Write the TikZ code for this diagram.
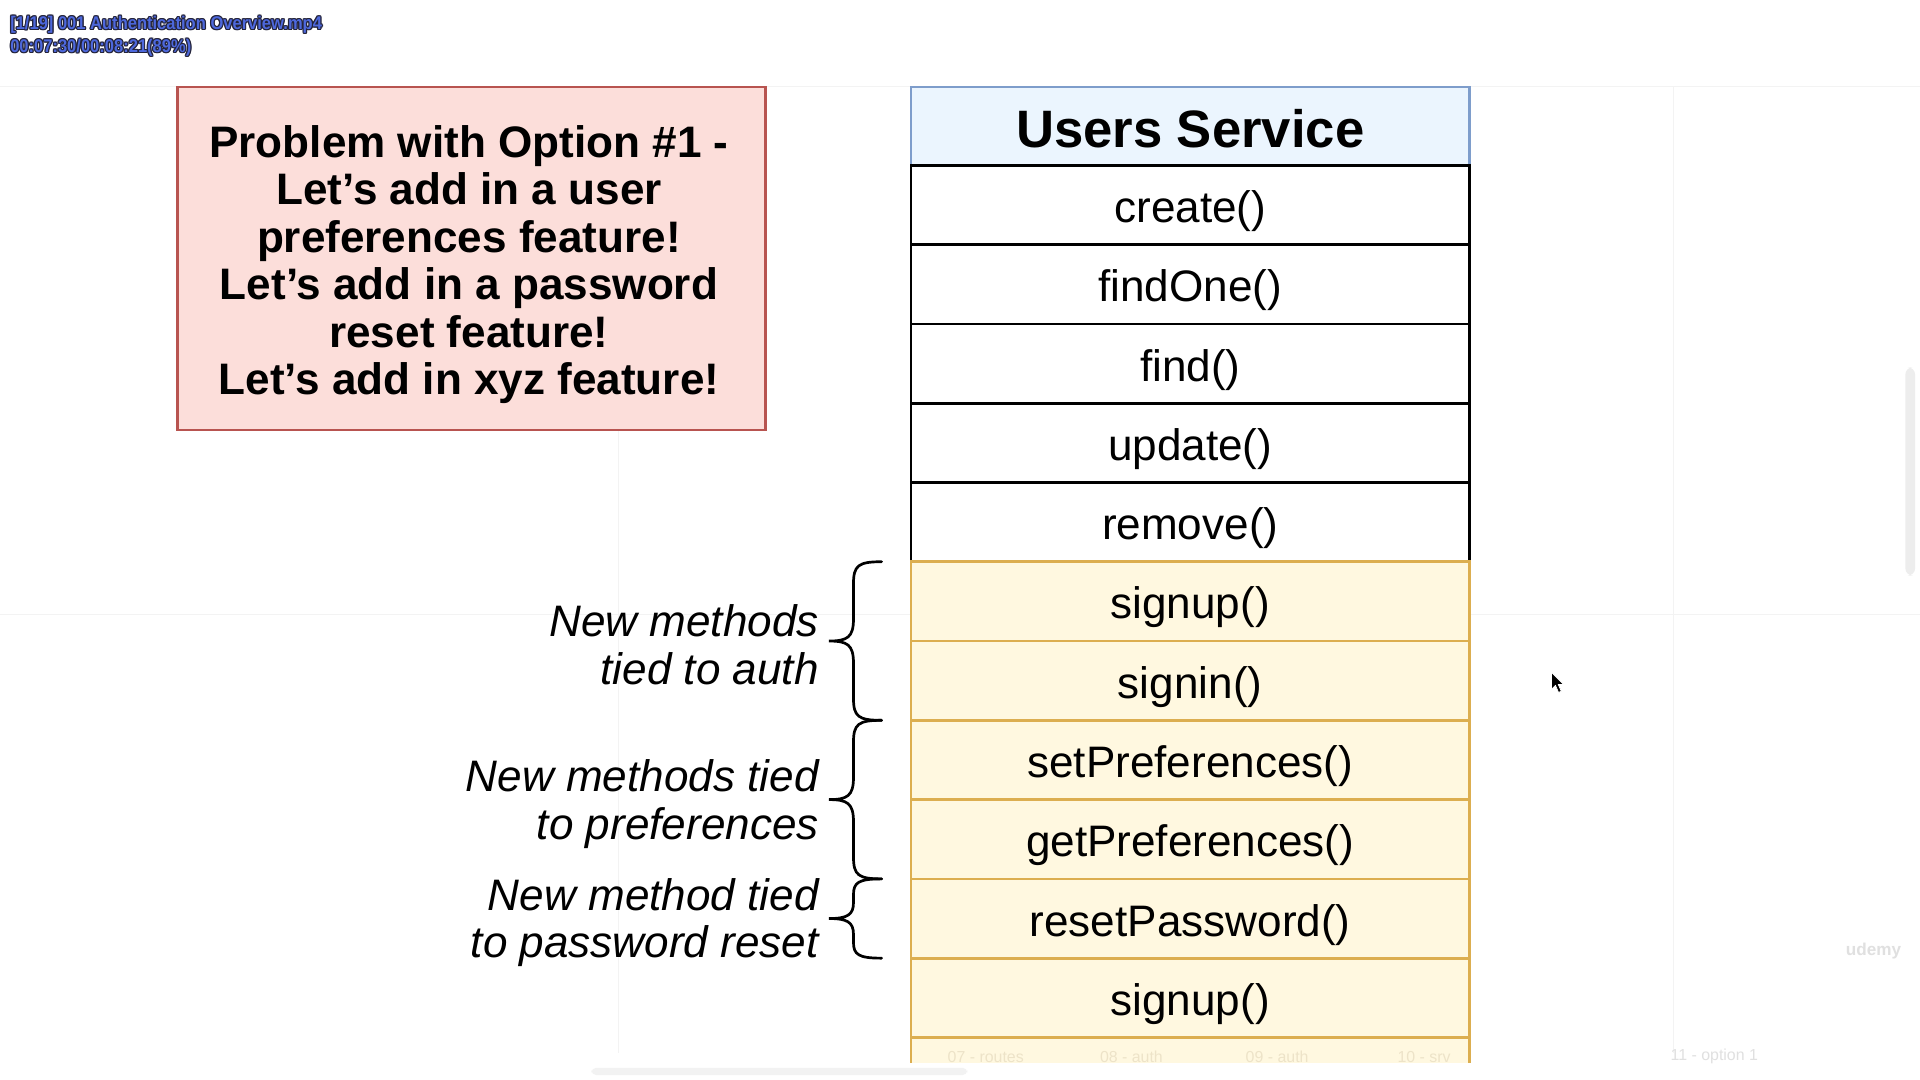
\documentclass[tikz,border=0pt]{standalone}
\usepackage{fontspec}
\usepackage{graphicx}
\setmainfont{Liberation Sans}[Ligatures=ResetAll]
\newcommand{\sq}{\symbol{39}}
\definecolor{pinkfill}{HTML}{FCDEDA}
\definecolor{pinkline}{HTML}{B85450}
\definecolor{bluefill}{HTML}{EBF5FE}
\definecolor{blueline}{HTML}{7E9DCB}
\definecolor{yelfill}{HTML}{FFF8E0}
\definecolor{yelline}{HTML}{DCAE50}
\definecolor{ovblue}{HTML}{4D68DC}
\definecolor{ovdark}{HTML}{23233A}
\definecolor{gridc}{HTML}{F3F3F3}
\definecolor{faintc}{HTML}{EDE3C8}
\begin{document}
\begin{tikzpicture}[x=0.5pt,y=-0.5pt,
  rowtext/.style={font=\fontsize{18}{20}\selectfont, anchor=center, inner sep=0pt},
  titletext/.style={font=\fontsize{21.5}{24}\selectfont\bfseries, anchor=center, inner sep=0pt},
  problemtext/.style={font=\fontsize{18}{19.4}\selectfont\bfseries, align=center, anchor=center, inner sep=0pt},
  notetext/.style={font=\fontsize{18}{19.5}\selectfont\itshape, align=right, anchor=east, inner sep=0pt},
  ovltext/.style={font=\fontsize{7.5}{8}\selectfont\bfseries, anchor=west, inner sep=0pt},
  tabtext/.style={font=\fontsize{6.5}{7}\selectfont, text=faintc, anchor=center, inner sep=0pt},
  bracestyle/.style={draw=black, line width=1.1pt, line cap=round},
  whiterow/.style={draw=black, line width=1.1pt, fill=white},
  yelrow/.style={draw=yelline, line width=1.1pt, fill=yelfill}]
\useasboundingbox[fill=white] (0,0) rectangle (1568,882);

% faint grid
\foreach \gx in {505,1367} \draw[gridc, line width=0.4pt] (\gx,71) -- (\gx,860);
\foreach \gy in {71,502} \draw[gridc, line width=0.4pt] (0,\gy) -- (1568,\gy);

% problem box
\draw[draw=pinkline, fill=pinkfill, line width=1pt] (145,71) rectangle (625,351);
\node[problemtext] (problem) at (383,216) {Problem with Option \#1 -\\Let\sq s add in a user\\preferences feature!\\Let\sq s add in a password\\reset feature!\\Let\sq s add in xyz feature!};

% header
\fill[bluefill] (744,71) rectangle (1200,135);
\draw[blueline, line width=1pt] (744,135) -- (744,71) -- (1200,71) -- (1200,135);
\node[titletext] (title) at (972,105) {Users Service};

% white rows
\foreach \i in {0,...,4}
  \draw[whiterow] (744,{135+\i*64.75}) rectangle (1200,{135+(\i+1)*64.75});
% yellow rows
\foreach \i in {5,...,10}
  \draw[yelrow] (744,{135+\i*64.75}) rectangle (1200,{135+(\i+1)*64.75});
\fill[yelfill] (744,847.25) rectangle (1200,868);
\draw[yelline, line width=1.1pt] (744,868) -- (744,847.25) -- (1200,847.25) -- (1200,868);

% row labels
\foreach \t [count=\i from 0] in {create(),findOne(),find(),update(),remove(),signup(),signin(),setPreferences(),getPreferences(),resetPassword(),signup()}
  \node[rowtext] (m\i) at (972,{135+(\i+0.5)*64.75+5}) {\t};

% faint tab labels
\node[tabtext] (tab7) at (805,863) {07 - routes};
\node[tabtext] (tab8) at (924,863) {08 - auth};
\node[tabtext] (tab9) at (1043,863) {09 - auth};
\node[tabtext] (tab10) at (1163,863) {10 - srv};
\node[tabtext, text=black!12] (tab11) at (1400,863) {11 - option 1};

% braces
\foreach \ta/\tb [count=\k] in {458.75/588.25, 588.25/717.75, 717.75/782.5} {
  \pgfmathsetmacro{\mid}{(\ta+\tb)/2}
  \pgfmathsetmacro{\rr}{min(18,(\tb-\ta)/5)}
  \draw[bracestyle] (720,\ta) .. controls (701,\ta) and (697,{\ta+3}) .. (697,{\ta+\rr})
    -- (697,{\mid-\rr}) .. controls (697,{\mid-3}) and (692,\mid) .. (677,\mid)
    .. controls (692,\mid) and (697,{\mid+3}) .. (697,{\mid+\rr})
    -- (697,{\tb-\rr}) .. controls (697,{\tb-3}) and (701,\tb) .. (720,\tb);
}

% notes
\node[notetext] (note1) at (669,526.5) {New methods\\tied to auth};
\node[notetext] (note2) at (669,656.5) {New methods tied\\to preferences};
\node[notetext] (note3) at (669,753.5) {New method tied\\to password reset};

% overlay text with outline
\foreach \dx/\dy [count=\k] in {-1/0,1/0,0/-1,0/1,-0.7/-0.7,0.7/0.7,-0.7/0.7,0.7/-0.7} {
  \node[ovltext, text=ovdark] (ovA\k) at ({8+\dx},{20+\dy}) {\scalebox{0.9}[1]{[1/19] 001 Authentication Overview.mp4}};
  \node[ovltext, text=ovdark] (ovB\k) at ({8+\dx},{39+\dy}) {\scalebox{0.9}[1]{00:07:30/00:08:21(89\%)}};
}
\node[ovltext, text=ovblue] (ovA) at (8,20) {\scalebox{0.9}[1]{[1/19] 001 Authentication Overview.mp4}};
\node[ovltext, text=ovblue] (ovB) at (8,39) {\scalebox{0.9}[1]{00:07:30/00:08:21(89\%)}};

% scrollbars
\fill[black!7, rounded corners=3pt] (1556,300) rectangle (1564,470);
\fill[black!5, rounded corners=2pt] (483,872) rectangle (790,878);

% udemy watermark
\node[font=\fontsize{7}{8}\selectfont\bfseries, text=black!12, inner sep=0pt] (udemy) at (1530,777) {udemy};

% cursor
\filldraw[fill=black, draw=white, line width=0.3pt] (1267,549) -- (1267,563) -- (1270.3,559.8) -- (1272.8,565.5) -- (1275,564.5) -- (1272.6,559) -- (1277,559) -- cycle;
\end{tikzpicture}
\end{document}
